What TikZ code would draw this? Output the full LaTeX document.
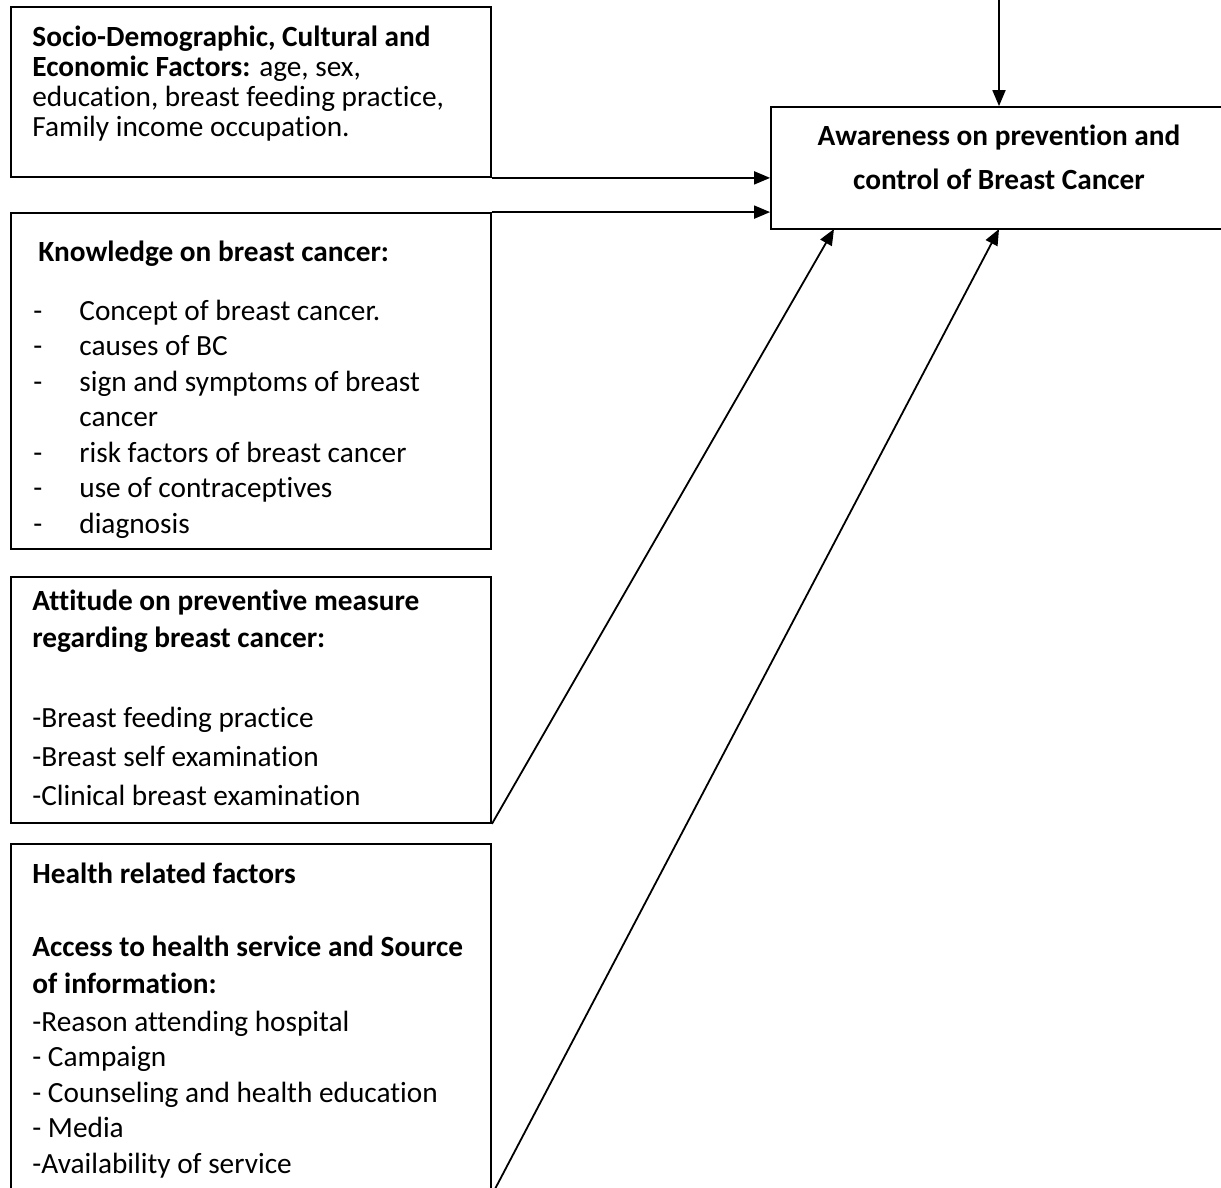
\documentclass[tikz,border=0pt]{standalone}
\usepackage{fontspec}
\setmainfont{Carlito}[Ligatures={NoCommon}]
\usetikzlibrary{arrows.meta,fit}
\begin{document}
\begin{tikzpicture}[x=0.5pt,y=-0.5pt,
  box/.style={draw=black,line width=0.9pt,inner sep=0pt,fill=none},
  txt/.style={anchor=base west,inner sep=0pt,font=\fontsize{14.65pt}{17.6pt}\selectfont},
  btxt/.style={txt,font=\fontsize{14.65pt}{17.6pt}\selectfont\bfseries},
  ctxt/.style={anchor=base,inner sep=0pt,font=\fontsize{14.65pt}{17.6pt}\selectfont\bfseries},
  arr/.style={draw=black,line width=0.9pt,-{Triangle[length=8pt,width=6.5pt]}},
  ln/.style={draw=black,line width=0.9pt}]
\useasboundingbox (0,0) rectangle (1221,1188);
% boxes
\node[box,fit={(11,7)(491,177)}] (b1) {};
\node[box,fit={(11,213)(491,549)}] (b2) {};
\node[box,fit={(11,577)(491,823)}] (b3) {};
\node[box,fit={(11,844)(491,1194)}] (b4) {};
\node[box,fit={(771,107)(1227,229)}] (aw) {};
% box 1 text
\node[btxt] (s1) at (32,47) {Socio-Demographic, Cultural and};
\node[txt] (s2) at (32,77) {\textbf{Economic Factors:} age, sex,};
\node[txt] (s3) at (32,107) {education, breast feeding practice,};
\node[txt] (s4) at (32,137) {Family income occupation.};
% box 2 text
\node[btxt] (k0) at (38,261) {Knowledge on breast cancer:};
\node[txt] (k1d) at (33,320) {-};
\node[txt] (k1) at (79,320) {Concept of breast cancer.};
\node[txt] (k2d) at (33,355.5) {-};
\node[txt] (k2) at (79,355.5) {causes of BC};
\node[txt] (k3d) at (33,391) {-};
\node[txt] (k3) at (79,391) {sign and symptoms of breast};
\node[txt] (k3b) at (79,426.5) {cancer};
\node[txt] (k4d) at (33,462) {-};
\node[txt] (k4) at (79,462) {risk factors of breast cancer};
\node[txt] (k5d) at (33,497.5) {-};
\node[txt] (k5) at (79,497.5) {use of contraceptives};
\node[txt] (k6d) at (33,533) {-};
\node[txt] (k6) at (79,533) {diagnosis};
% box 3 text
\node[btxt] (a1) at (32,610) {Attitude on preventive measure};
\node[btxt] (a2) at (32,647) {regarding breast cancer:};
\node[txt] (a3) at (32,727) {-Breast feeding practice};
\node[txt] (a4) at (32,766) {-Breast self examination};
\node[txt] (a5) at (32,805) {-Clinical breast examination};
% box 4 text
\node[btxt] (h1) at (32,883) {Health related factors};
\node[btxt] (h2) at (32,956) {Access to health service and Source};
\node[btxt] (h3) at (32,993) {of information:};
\node[txt] (h4) at (32,1031) {-Reason attending hospital};
\node[txt] (h5) at (32,1066.5) {- Campaign};
\node[txt] (h6) at (32,1102) {- Counseling and health education};
\node[txt] (h7) at (32,1137.5) {- Media};
\node[txt] (h8) at (32,1173) {-Availability of service};
% awareness text
\node[ctxt] (w1) at (999,146) {Awareness on prevention and};
\node[ctxt] (w2) at (999,190) {control of Breast Cancer};
% connectors
\coordinate (top) at (999,-10);
\coordinate (t3) at (834,229);
\coordinate (t4) at (999,229);
\draw[arr] (top) -- (aw.north);
\draw[arr] (b1.south east) -- (b1.south east -| aw.west);
\draw[arr] (b2.north east) -- (b2.north east -| aw.west);
\draw[arr] (b3.south east) -- (t3);
\draw[arr] (b4.south east) -- (t4);
\end{tikzpicture}
\end{document}
